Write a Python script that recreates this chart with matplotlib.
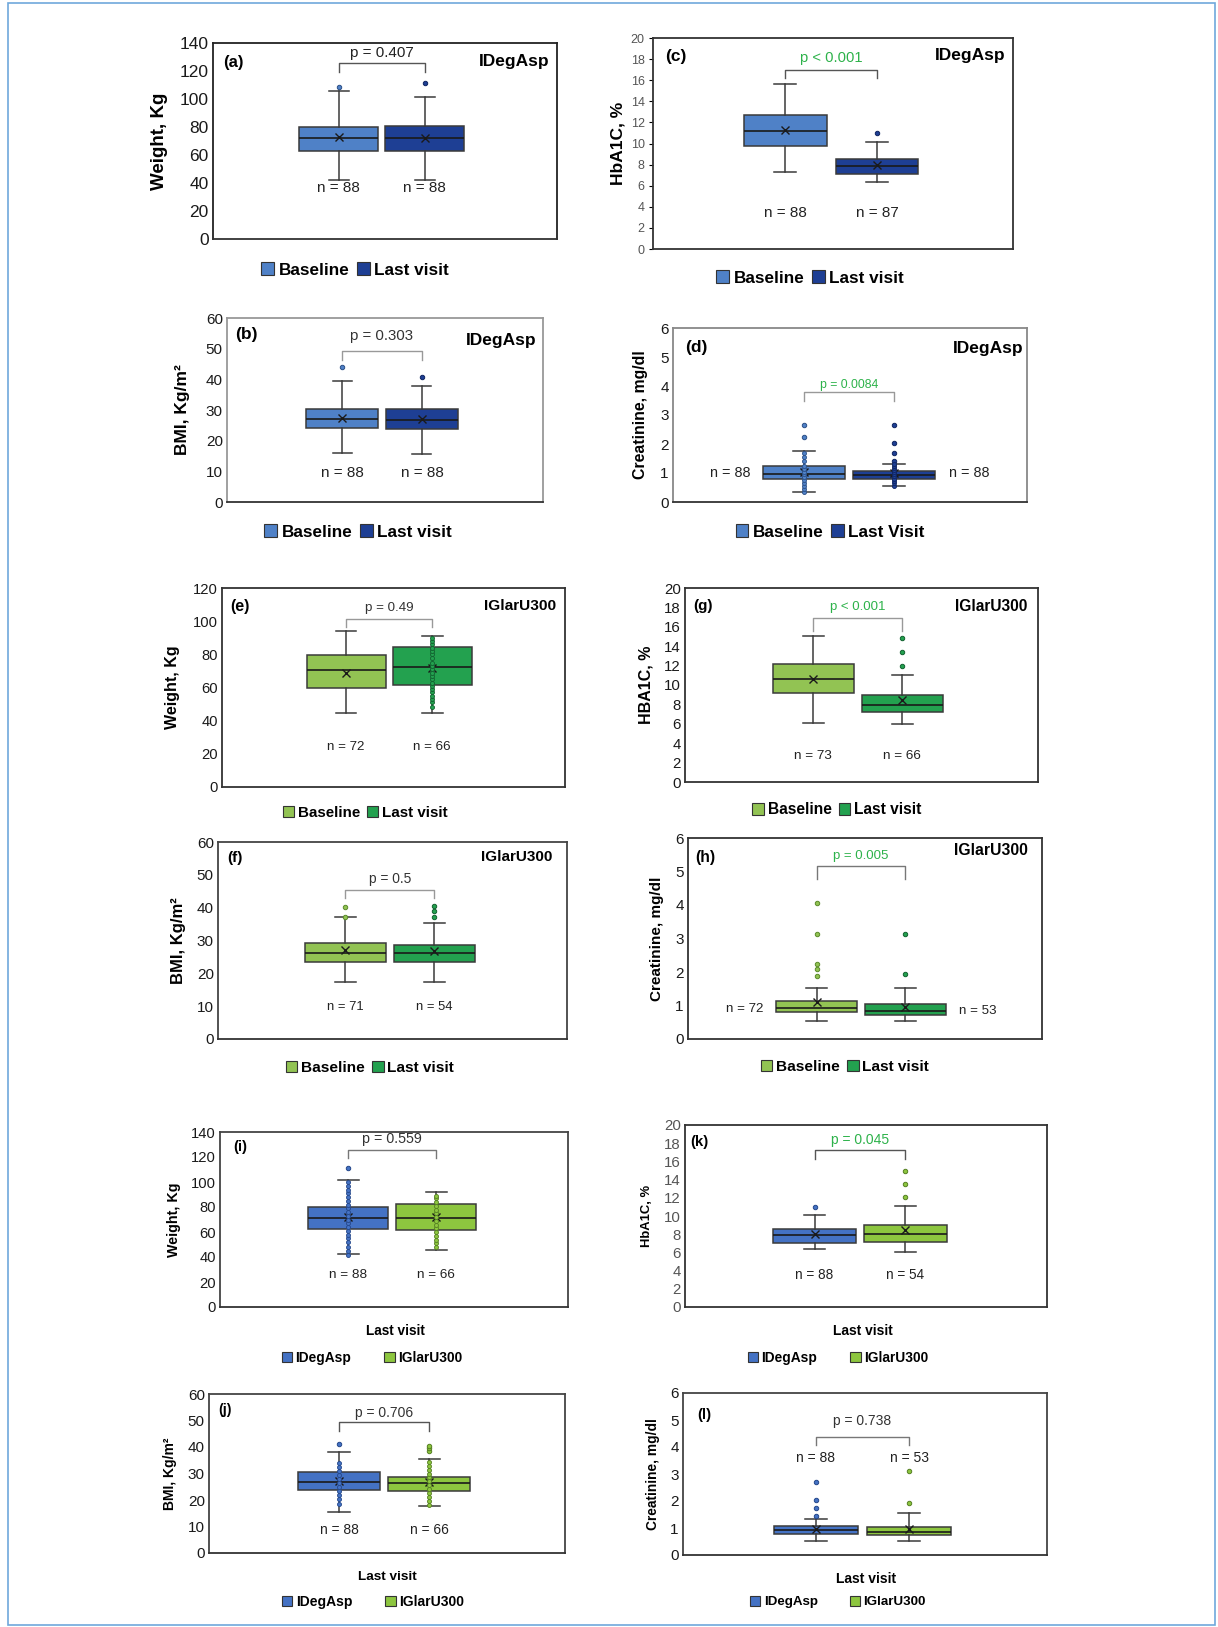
import matplotlib
matplotlib.use('Agg')
import matplotlib.pyplot as plt
from matplotlib.patches import Patch, Rectangle

plt.rcParams['font.family'] = ['Liberation Sans', 'DejaVu Sans']

W, H = 1218, 1627

# Couleurs
c_base_blue = '#4F81C7'
c_last_blue = '#1E3F94'
c_base_green = '#92C353'
c_last_green = '#23A14F'
c_ideg = '#4472C4'
c_iglar = '#8DC63F'
c_pgreen = '#2DB24A'

# Données : q1, médiane, q3, moustaches, moyenne, points
# (a) Poids, IDegAsp
a_q1 = [62.7, 62.7]
a_med = [72.2, 72.0]
a_q3 = [79.9, 80.9]
a_lo = [41.9, 42.3]
a_hi = [105.5, 101.4]
a_mean = [72.7, 72.5]
a_out = [[108.6], [111.5]]
a_pts = [[], []]
a_n = ['n = 88', 'n = 88']
a_p = 'p = 0.407'

# (b) IMC, IDegAsp
b_q1 = [24.0, 23.9]
b_med = [27.0, 26.7]
b_q3 = [30.2, 30.3]
b_lo = [16.1, 15.5]
b_hi = [39.4, 37.8]
b_mean = [27.3, 27.2]
b_out = [[43.9], [40.9]]
b_pts = [[], []]
b_n = ['n = 88', 'n = 88']
b_p = 'p = 0.303'

# (c) HbA1c, IDegAsp
c_q1 = [9.76, 7.11]
c_med = [11.15, 7.84]
c_q3 = [12.73, 8.53]
c_lo = [7.27, 6.32]
c_hi = [15.67, 10.1]
c_mean = [11.25, 7.93]
c_out = [[], [11.0]]
c_pts = [[], []]
c_n = ['n = 88', 'n = 87']
c_p = 'p < 0.001'

# (d) Créatinine, IDegAsp
d_q1 = [0.81, 0.81]
d_med = [0.95, 0.94]
d_q3 = [1.25, 1.07]
d_lo = [0.35, 0.56]
d_hi = [1.76, 1.32]
d_mean = [1.04, 0.99]
d_out = [[2.24, 2.66], [1.42, 1.70, 2.03, 2.66]]
d_pts = [[0.35, 0.45, 0.55, 0.65, 0.75, 0.85, 0.95, 1.05, 1.15, 1.25, 1.40, 1.55, 1.70],
         [0.56, 0.64, 0.72, 0.80, 0.88, 0.95, 1.02, 1.10, 1.18, 1.25, 1.32]]
d_n = ['n = 88', 'n = 88']
d_p = 'p = 0.0084'

# (e) Poids, IGlarU300
e_q1 = [59.4, 61.5]
e_med = [70.6, 72.6]
e_q3 = [79.5, 84.2]
e_lo = [44.6, 44.6]
e_hi = [94.3, 90.9]
e_mean = [69.0, 72.0]
e_out = [[], []]
e_pts = [[], [48, 51, 53, 55, 57, 59, 61, 63, 65, 67, 69, 71, 73, 75, 78, 80, 82, 84, 86, 88, 90]]
e_n = ['n = 72', 'n = 66']
e_p = 'p = 0.49'

# (f) IMC, IGlarU300
f_q1 = [23.6, 23.5]
f_med = [26.2, 26.3]
f_q3 = [29.1, 28.7]
f_lo = [17.5, 17.5]
f_hi = [37.1, 35.4]
f_mean = [27.2, 26.9]
f_out = [[37.3, 40.2], [37.1, 38.9, 40.4]]
f_pts = [[], []]
f_n = ['n = 71', 'n = 54']
f_p = 'p = 0.5'

# (g) HbA1c, IGlarU300
g_q1 = [9.19, 7.18]
g_med = [10.64, 7.94]
g_q3 = [12.13, 9.01]
g_lo = [6.07, 5.96]
g_hi = [15.08, 11.06]
g_mean = [10.64, 8.42]
g_out = [[], [11.96, 13.45, 14.84]]
g_pts = [[], []]
g_n = ['n = 73', 'n = 66']
g_p = 'p < 0.001'

# (h) Créatinine, IGlarU300
h_q1 = [0.80, 0.73]
h_med = [0.94, 0.84]
h_q3 = [1.13, 1.05]
h_lo = [0.53, 0.53]
h_hi = [1.53, 1.53]
h_mean = [1.10, 0.95]
h_out = [[1.87, 2.08, 2.25, 3.12, 4.07], [1.94, 3.12]]
h_pts = [[], []]
h_n = ['n = 72', 'n = 53']
h_p = 'p = 0.005'

# (i) Poids, dernière visite
i_q1 = [62.7, 61.9]
i_med = [71.6, 71.0]
i_q3 = [80.4, 82.8]
i_lo = [42.1, 45.3]
i_hi = [101.3, 91.7]
i_mean = [72.4, 72.4]
i_out = [[111.3], []]
i_pts = [[42, 45, 48, 52, 55, 58, 61, 64, 67, 70, 73, 76, 79, 82, 85, 88, 91, 94, 97, 100],
         [48, 51, 54, 57, 60, 63, 66, 69, 72, 75, 78, 81, 84, 87, 89]]
i_n = ['n = 88', 'n = 66']
i_p = 'p = 0.559'

# (j) IMC, dernière visite
j_q1 = [23.8, 23.5]
j_med = [26.8, 26.3]
j_q3 = [30.4, 28.6]
j_lo = [15.6, 17.8]
j_hi = [38.1, 35.5]
j_mean = [27.0, 26.7]
j_out = [[41.2], [38.5, 39.5, 40.5]]
j_pts = [[18.5, 20.5, 22, 23.5, 25, 26.5, 28, 29.5, 31, 32.5, 34],
         [18, 19.5, 21, 22.5, 24, 25.5, 27, 28.5, 30, 31.5, 33, 34.5]]
j_n = ['n = 88', 'n = 66']
j_p = 'p = 0.706'

# (k) HbA1c, dernière visite
k_q1 = [7.08, 7.16]
k_med = [7.89, 8.0]
k_q3 = [8.59, 9.06]
k_lo = [6.35, 6.06]
k_hi = [10.13, 11.12]
k_mean = [8.0, 8.48]
k_out = [[11.0], [12.04, 13.54, 14.94]]
k_pts = [[], []]
k_n = ['n = 88', 'n = 54']
k_p = 'p = 0.045'

# (l) Créatinine, dernière visite
l_q1 = [0.79, 0.73]
l_med = [0.93, 0.86]
l_q3 = [1.06, 1.05]
l_lo = [0.53, 0.53]
l_hi = [1.34, 1.54]
l_mean = [0.98, 0.98]
l_out = [[1.44, 1.73, 2.04, 2.69], [1.94, 3.11]]
l_pts = [[], []]
l_n = ['n = 88', 'n = 53']
l_p = 'p = 0.738'

blue_cols = [c_base_blue, c_last_blue]
blue_edges = ['#2B4F86', '#0F2460']
green_cols = [c_base_green, c_last_green]
green_edges = ['#5A8A2A', '#11602F']
mix_cols = [c_ideg, c_iglar]
mix_edges = ['#24478A', '#557F22']

# Mise en page (pixels) et styles de chaque panneau
panels = [
    dict(data=(a_q1, a_med, a_q3, a_lo, a_hi, a_mean, a_out, a_pts), n=a_n, p=a_p,
         rect=(213, 43, 557, 239), ymax=140, ystep=20, tsize=12.5, tcol='#1a1a1a', tlen=0,
         ylab='Weight, Kg', ylsize=13.5, ylx=160, pos=[0.366, 0.616], cols=blue_cols, edges=blue_edges,
         letter='(a)', lxy=(0.03, 0.90), lsize=12, group='IDegAsp', gxy=(0.977, 0.905), gsize=12.5,
         bracket=(119.4, 126, 133), psize=11, pcol='#222222', bcol='#555555', ny=36.4, nsize=11,
         leg=['Baseline', 'Last visit'], legxy=(355, 270), legsize=12.3, cs=0.45, frame='#222222'),
    dict(data=(c_q1, c_med, c_q3, c_lo, c_hi, c_mean, c_out, c_pts), n=c_n, p=c_p,
         rect=(653, 38, 1013, 249), ymax=20, ystep=2, tsize=9, tcol='#555555', tlen=3,
         ylab='HbA1C, %', ylsize=12.5, ylx=618, pos=[0.367, 0.622], cols=blue_cols, edges=blue_edges,
         letter='(c)', lxy=(0.033, 0.91), lsize=12.5, group='IDegAsp', gxy=(0.978, 0.915), gsize=12.5,
         bracket=(16.2, 17.0, 18.1), psize=10.6, pcol=c_pgreen, bcol='#555555', ny=3.4, nsize=11,
         leg=['Baseline', 'Last visit'], legxy=(810, 278), legsize=12.3, cs=0.45, frame='#333333'),
    dict(data=(b_q1, b_med, b_q3, b_lo, b_hi, b_mean, b_out, b_pts), n=b_n, p=b_p,
         rect=(227, 318, 543, 502), ymax=60, ystep=10, tsize=11, tcol='#1a1a1a', tlen=0,
         ylab='BMI, Kg/m²', ylsize=12.5, ylx=182, pos=[0.364, 0.617], cols=blue_cols, edges=blue_edges,
         letter='(b)', lxy=(0.025, 0.908), lsize=12.5, group='IDegAsp', gxy=(0.981, 0.877), gsize=12.5,
         bracket=(46.3, 49.1, 54), psize=10.8, pcol='#333333', bcol='#999999', ny=9.3, nsize=11,
         leg=['Baseline', 'Last visit'], legxy=(358, 532), legsize=12.3, cs=0.45, frame='#999999'),
    dict(data=(d_q1, d_med, d_q3, d_lo, d_hi, d_mean, d_out, d_pts), n=d_n, p=d_p,
         rect=(673, 328, 1027, 502), ymax=6, ystep=1, tsize=11, tcol='#1a1a1a', tlen=0,
         ylab='Creatinine, mg/dl', ylsize=11.4, ylx=640, pos=[0.37, 0.624], cols=blue_cols, edges=blue_edges,
         letter='(d)', lxy=(0.034, 0.89), lsize=12.5, group='IDegAsp', gxy=(0.989, 0.885), gsize=12.5,
         bracket=(3.48, 3.79, 4.02), psize=8.8, pcol=c_pgreen, bcol='#999999',
         nside=[(0.161, 0.99), (0.836, 0.99)], nsize=10.4,
         leg=['Baseline', 'Last Visit'], legxy=(830, 532), legsize=12.3, cs=0.45, frame='#888888'),
    dict(data=(e_q1, e_med, e_q3, e_lo, e_hi, e_mean, e_out, e_pts), n=e_n, p=e_p,
         rect=(222, 588, 565, 787), ymax=120, ystep=20, tsize=10.6, tcol='#1a1a1a', tlen=0,
         ylab='Weight, Kg', ylsize=11.5, ylx=173, pos=[0.362, 0.613], cols=green_cols, edges=green_edges,
         letter='(e)', lxy=(0.023, 0.905), lsize=11.5, group='IGlarU300', gxy=(0.974, 0.91), gsize=11.1,
         bracket=(96.3, 101.4, 108), psize=9.6, pcol='#333333', bcol='#999999', ny=24.3, nsize=9.6,
         leg=['Baseline', 'Last visit'], legxy=(365, 813), legsize=10.9, cs=0.45, frame='#333333'),
    dict(data=(g_q1, g_med, g_q3, g_lo, g_hi, g_mean, g_out, g_pts), n=g_n, p=g_p,
         rect=(685, 588, 1038, 782), ymax=20, ystep=2, tsize=10.8, tcol='#1a1a1a', tlen=0,
         ylab='HBA1C, %', ylsize=11.5, ylx=646, pos=[0.363, 0.615], cols=green_cols, edges=green_edges,
         letter='(g)', lxy=(0.023, 0.907), lsize=11, group='IGlarU300', gxy=(0.969, 0.907), gsize=11.2,
         bracket=(15.6, 16.9, 18.0), psize=9.5, pcol=c_pgreen, bcol='#999999', ny=2.7, nsize=9.7,
         leg=['Baseline', 'Last visit'], legxy=(837, 810), legsize=11.2, cs=0.45, frame='#333333'),
    dict(data=(f_q1, f_med, f_q3, f_lo, f_hi, f_mean, f_out, f_pts), n=f_n, p=f_p,
         rect=(218, 842, 567, 1039), ymax=60, ystep=10, tsize=11, tcol='#1a1a1a', tlen=0,
         ylab='BMI, Kg/m²', ylsize=12, ylx=179, pos=[0.365, 0.62], cols=green_cols, edges=green_edges,
         letter='(f)', lxy=(0.026, 0.92), lsize=11, group='IGlarU300', gxy=(0.957, 0.925), gsize=11,
         bracket=(42.8, 45.3, 48.7), psize=9.9, pcol='#333333', bcol='#999999', ny=9.8, nsize=9.4,
         leg=['Baseline', 'Last visit'], legxy=(370, 1068), legsize=11.1, cs=0.45, frame='#444444'),
    dict(data=(h_q1, h_med, h_q3, h_lo, h_hi, h_mean, h_out, h_pts), n=h_n, p=h_p,
         rect=(688, 838, 1042, 1039), ymax=6, ystep=1, tsize=11, tcol='#1a1a1a', tlen=0,
         ylab='Creatinine, mg/dl', ylsize=11, ylx=657, pos=[0.363, 0.614], cols=green_cols, edges=green_edges,
         letter='(h)', lxy=(0.02, 0.905), lsize=11.3, group='IGlarU300', gxy=(0.96, 0.94), gsize=11.3,
         bracket=(4.77, 5.16, 5.47), psize=9.5, pcol=c_pgreen, bcol='#777777',
         nside=[(0.161, 0.89), (0.819, 0.84)], nsize=9.6,
         leg=['Baseline', 'Last visit'], legxy=(845, 1067), legsize=11.1, cs=0.45, frame='#333333'),
    dict(data=(i_q1, i_med, i_q3, i_lo, i_hi, i_mean, i_out, i_pts), n=i_n, p=i_p,
         rect=(220, 1132, 568, 1307), ymax=140, ystep=20, tsize=10.6, tcol='#1a1a1a', tlen=0,
         ylab='Weight, Kg', ylsize=10.3, ylx=174, pos=[0.368, 0.621], cols=mix_cols, edges=mix_edges,
         letter='(i)', lxy=(0.037, 0.914), lsize=10.7, group=None,
         bracket=(119, 125.7, 134), psize=10.3, pcol='#333333', bcol='#777777', ny=25.2, nsize=9.7,
         xlab=(395, 1331, 9.8),
         leg=['IDegAsp', 'IGlarU300'], legxy=(372, 1358), legsize=9.9, cs=2.4, frame='#444444'),
    dict(data=(k_q1, k_med, k_q3, k_lo, k_hi, k_mean, k_out, k_pts), n=k_n, p=k_p,
         rect=(685, 1125, 1047, 1307), ymax=20, ystep=2, tsize=10.8, tcol='#555555', tlen=0,
         ylab='HbA1C, %', ylsize=9.4, ylx=647, pos=[0.358, 0.609], cols=mix_cols, edges=mix_edges,
         letter='(k)', lxy=(0.014, 0.907), lsize=10.8, group=None,
         bracket=(16.3, 17.2, 18.3), psize=10, pcol=c_pgreen, bcol='#555555', ny=3.5, nsize=9.8,
         xlab=(863, 1331, 9.9),
         leg=['IDegAsp', 'IGlarU300'], legxy=(838, 1358), legsize=9.9, cs=2.4, frame='#333333'),
    dict(data=(j_q1, j_med, j_q3, j_lo, j_hi, j_mean, j_out, j_pts), n=j_n, p=j_p,
         rect=(209, 1394, 565, 1553), ymax=60, ystep=10, tsize=11, tcol='#1a1a1a', tlen=0,
         ylab='BMI, Kg/m²', ylsize=10, ylx=170, pos=[0.365, 0.619], cols=mix_cols, edges=mix_edges,
         letter='(j)', lxy=(0.025, 0.9), lsize=10.2, group=None,
         bracket=(46.1, 49.6, 53), psize=10, pcol='#333333', bcol='#555555', ny=8.6, nsize=9.9,
         xlab=(387, 1577, 9.7),
         leg=['IDegAsp', 'IGlarU300'], legxy=(373, 1602), legsize=10, cs=2.4, frame='#444444'),
    dict(data=(l_q1, l_med, l_q3, l_lo, l_hi, l_mean, l_out, l_pts), n=l_n, p=l_p,
         rect=(683, 1393, 1047, 1555), ymax=6, ystep=1, tsize=11, tcol='#1a1a1a', tlen=0,
         ylab='Creatinine, mg/dl', ylsize=9.9, ylx=653, pos=[0.365, 0.621], cols=mix_cols, edges=mix_edges,
         letter='(l)', lxy=(0.038, 0.864), lsize=10.8, group=None,
         bracket=(4.06, 4.38, 4.96), psize=10, pcol='#333333', bcol='#777777', ny=3.61, nsize=10,
         xlab=(866, 1579, 10),
         leg=['IDegAsp', 'IGlarU300'], legxy=(838, 1602), legsize=9.6, cs=2.4, frame='#444444'),
]

fig = plt.figure(figsize=(W / 100, H / 100), dpi=100)

# cadre bleu autour de la figure
fig.patches.append(Rectangle((8 / W, 2 / H), (W - 11) / W, (H - 5) / H, transform=fig.transFigure,
                             fill=False, edgecolor='#6FA8DC', linewidth=1.2))


def draw(p):
    l, t, r, b = p['rect']
    ax = fig.add_axes([l / W, 1 - b / H, (r - l) / W, (b - t) / H])
    q1, med, q3, lo, hi, mean, out, pts = p['data']
    stats = [dict(q1=q1[i], med=med[i], q3=q3[i], whislo=lo[i], whishi=hi[i],
                  mean=mean[i], fliers=out[i]) for i in range(2)]
    res = ax.bxp(stats, positions=p['pos'], widths=0.23, capwidths=0.06,
                 showmeans=True, patch_artist=True, manage_ticks=False,
                 boxprops=dict(edgecolor='#3a3a3a', linewidth=1.1),
                 medianprops=dict(color='#1a1a1a', linewidth=1.2),
                 whiskerprops=dict(color='#3a3a3a', linewidth=1.1),
                 capprops=dict(color='#3a3a3a', linewidth=1.1),
                 meanprops=dict(marker='x', markeredgecolor='#1a1a1a', markersize=6, markeredgewidth=1),
                 flierprops=dict(marker='o', markersize=3.2, markeredgewidth=0.7))
    for i, col in enumerate(p['cols']):
        res['boxes'][i].set_facecolor(col)
        res['fliers'][i].set_markerfacecolor(col)
        res['fliers'][i].set_markeredgecolor(p['edges'][i])
        if pts[i]:
            ax.plot([p['pos'][i]] * len(pts[i]), pts[i], 'o', ms=2.9, mfc=col,
                    mec=p['edges'][i], mew=0.6, zorder=5)

    ax.set_xlim(0, 1)
    ax.set_ylim(0, p['ymax'])
    ax.set_yticks(range(0, p['ymax'] + 1, p['ystep']))
    ax.set_xticks([])
    ax.tick_params(axis='y', labelsize=p['tsize'], labelcolor=p['tcol'], length=p['tlen'], pad=3)
    for s in ax.spines.values():
        s.set_color(p['frame'])
        s.set_linewidth(1.3)
    ax.spines['bottom'].set_color('#333333')

    # étiquette de l'axe y
    ax.text((p['ylx'] - l) / (r - l), 0.5, p['ylab'], rotation=90, ha='center', va='center',
            fontsize=p['ylsize'], fontweight='bold', transform=ax.transAxes)

    ax.text(p['lxy'][0], p['lxy'][1], p['letter'], ha='left', va='center', fontsize=p['lsize'],
            fontweight='bold', transform=ax.transAxes)
    if p['group']:
        ax.text(p['gxy'][0], p['gxy'][1], p['group'], ha='right', va='center', fontsize=p['gsize'],
                fontweight='bold', transform=ax.transAxes)

    # crochet + valeur p
    x1, x2 = p['pos']
    yb, yt, yp = p['bracket']
    ax.plot([x1, x1, x2, x2], [yb, yt, yt, yb], color=p['bcol'], lw=1)
    ax.text((x1 + x2) / 2, yp, p['p'], ha='center', va='center', fontsize=p['psize'], color=p['pcol'])

    # effectifs
    if 'nside' in p:
        for (xn, yn), s in zip(p['nside'], p['n']):
            ax.text(xn, yn, s, ha='center', va='center', fontsize=p['nsize'], color='#222222')
    else:
        for xn, s in zip(p['pos'], p['n']):
            ax.text(xn, p['ny'], s, ha='center', va='center', fontsize=p['nsize'], color='#222222')

    if 'xlab' in p:
        xx, yy, sz = p['xlab']
        fig.text(xx / W, 1 - yy / H, 'Last visit', ha='center', va='center', fontsize=sz, fontweight='bold')

    handles = [Patch(facecolor=c, edgecolor='#333333', linewidth=0.8) for c in p['cols']]
    fig.legend(handles, p['leg'], loc='center', bbox_to_anchor=(p['legxy'][0] / W, 1 - p['legxy'][1] / H),
               ncol=2, frameon=False, prop=dict(weight='bold', size=p['legsize']),
               handlelength=0.75, handleheight=0.75, handletextpad=0.25, columnspacing=p['cs'],
               borderpad=0, borderaxespad=0)


for p in panels:
    draw(p)

fig.savefig('out.png', dpi=100)
